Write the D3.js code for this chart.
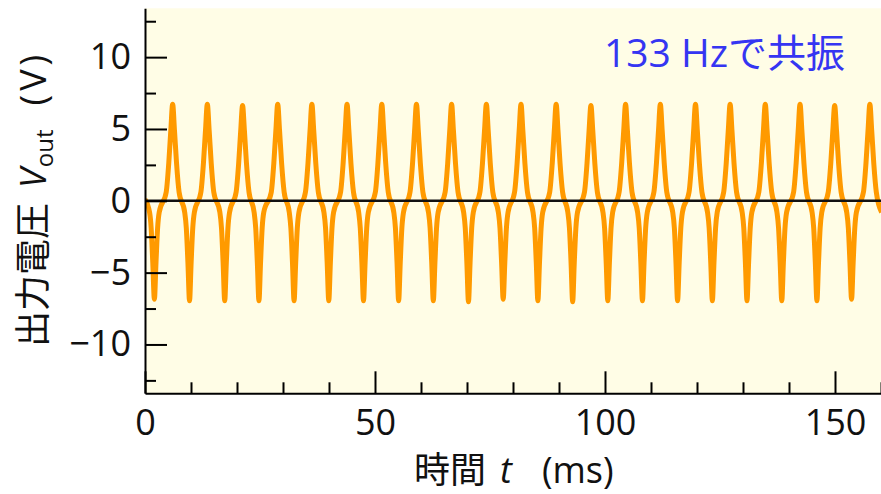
<!DOCTYPE html>
<html>
<head>
<meta charset="utf-8">
<script src="https://cdn.jsdelivr.net/npm/d3@7"></script>
<style>
  body { margin: 0; background: #fff; }
  svg text { font-family: "Open Sans", "Noto Sans CJK JP", sans-serif; }
</style>
</head>
<body>
<svg id="chart" width="881" height="494"></svg>
<script>
// time (ms) and output voltage (V): one line per cycle
const timeMs = [
  0, 0.99, 1.34, 1.69,
  2.04, 2.39, 2.74, 3.09, 4.61, 5.16, 5.61, 6.01, 6.41, 6.86, 7.41, 8.63, 8.98, 9.33,
  9.68, 10.03, 10.38, 10.73, 12.15, 12.70, 13.15, 13.55, 13.95, 14.40, 14.95, 16.28, 16.63, 16.98,
  17.33, 17.68, 18.03, 18.38, 19.81, 20.36, 20.81, 21.21, 21.61, 22.06, 22.61, 23.72, 24.07, 24.42,
  24.77, 25.12, 25.47, 25.82, 27.45, 28.00, 28.45, 28.85, 29.25, 29.70, 30.25, 31.36, 31.71, 32.06,
  32.41, 32.76, 33.11, 33.46, 34.88, 35.43, 35.88, 36.28, 36.68, 37.13, 37.68, 38.90, 39.25, 39.60,
  39.95, 40.30, 40.65, 41.00, 42.52, 43.07, 43.52, 43.92, 44.32, 44.77, 45.32, 46.45, 46.80, 47.15,
  47.50, 47.85, 48.20, 48.55, 50.08, 50.63, 51.08, 51.48, 51.88, 52.33, 52.88, 54.09, 54.44, 54.79,
  55.14, 55.49, 55.84, 56.19, 57.61, 58.16, 58.61, 59.01, 59.41, 59.86, 60.41, 61.63, 61.98, 62.33,
  62.68, 63.03, 63.38, 63.73, 65.25, 65.80, 66.25, 66.65, 67.05, 67.50, 68.05, 69.27, 69.62, 69.97,
  70.32, 70.67, 71.02, 71.37, 72.81, 73.36, 73.81, 74.21, 74.61, 75.06, 75.61, 76.82, 77.17, 77.52,
  77.87, 78.22, 78.57, 78.92, 80.34, 80.89, 81.34, 81.74, 82.14, 82.59, 83.14, 84.36, 84.71, 85.06,
  85.41, 85.76, 86.11, 86.46, 87.98, 88.53, 88.98, 89.38, 89.78, 90.23, 90.78, 91.92, 92.27, 92.62,
  92.97, 93.32, 93.67, 94.02, 95.54, 96.09, 96.54, 96.94, 97.34, 97.79, 98.34, 99.56, 99.91, 100.26,
  100.61, 100.96, 101.31, 101.66, 103.07, 103.62, 104.07, 104.47, 104.87, 105.32, 105.87, 107.09, 107.44, 107.79,
  108.14, 108.49, 108.84, 109.19, 110.63, 111.18, 111.63, 112.03, 112.43, 112.88, 113.43, 114.73, 115.08, 115.43,
  115.78, 116.13, 116.48, 116.83, 118.27, 118.82, 119.27, 119.67, 120.07, 120.52, 121.07, 122.29, 122.64, 122.99,
  123.34, 123.69, 124.04, 124.39, 125.80, 126.35, 126.80, 127.20, 127.60, 128.05, 128.60, 129.82, 130.17, 130.52,
  130.87, 131.22, 131.57, 131.92, 133.44, 133.99, 134.44, 134.84, 135.24, 135.69, 136.24, 137.38, 137.73, 138.08,
  138.43, 138.78, 139.13, 139.48, 141.00, 141.55, 142.00, 142.40, 142.80, 143.25, 143.80, 145.02, 145.37, 145.72,
  146.07, 146.42, 146.77, 147.12, 148.53, 149.08, 149.53, 149.93, 150.33, 150.78, 151.33, 152.55, 152.90, 153.25,
  153.60, 153.95, 154.30, 154.65, 156.18, 156.73, 157.18, 157.58, 157.98, 158.43, 158.98, 160.13
];
const vOut = [
  0.1, -0.8, -1.9, -4.3,
  -6.85, -4.3, -1.9, -0.8, 0.6, 2.6, 4.9, 6.72, 4.9, 2.6, 0.6, -0.8, -1.9, -4.3,
  -6.96, -4.3, -1.9, -0.8, 0.6, 2.6, 4.9, 6.72, 4.9, 2.6, 0.6, -0.8, -1.9, -4.3,
  -6.96, -4.3, -1.9, -0.8, 0.6, 2.6, 4.9, 6.63, 4.9, 2.6, 0.6, -0.8, -1.9, -4.3,
  -6.96, -4.3, -1.9, -0.8, 0.6, 2.6, 4.9, 6.72, 4.9, 2.6, 0.6, -0.8, -1.9, -4.3,
  -6.96, -4.3, -1.9, -0.8, 0.6, 2.6, 4.9, 6.72, 4.9, 2.6, 0.6, -0.8, -1.9, -4.3,
  -6.96, -4.3, -1.9, -0.8, 0.6, 2.6, 4.9, 6.72, 4.9, 2.6, 0.6, -0.8, -1.9, -4.3,
  -6.96, -4.3, -1.9, -0.8, 0.6, 2.6, 4.9, 6.72, 4.9, 2.6, 0.6, -0.8, -1.9, -4.3,
  -6.96, -4.3, -1.9, -0.8, 0.6, 2.6, 4.9, 6.72, 4.9, 2.6, 0.6, -0.8, -1.9, -4.3,
  -6.96, -4.3, -1.9, -0.8, 0.6, 2.6, 4.9, 6.72, 4.9, 2.6, 0.6, -0.8, -1.9, -4.3,
  -7.03, -4.3, -1.9, -0.8, 0.6, 2.6, 4.9, 6.72, 4.9, 2.6, 0.6, -0.8, -1.9, -4.3,
  -6.85, -4.3, -1.9, -0.8, 0.6, 2.6, 4.9, 6.72, 4.9, 2.6, 0.6, -0.8, -1.9, -4.3,
  -6.96, -4.3, -1.9, -0.8, 0.6, 2.6, 4.9, 6.72, 4.9, 2.6, 0.6, -0.8, -1.9, -4.3,
  -7.03, -4.3, -1.9, -0.8, 0.6, 2.6, 4.9, 6.63, 4.9, 2.6, 0.6, -0.8, -1.9, -4.3,
  -6.96, -4.3, -1.9, -0.8, 0.6, 2.6, 4.9, 6.72, 4.9, 2.6, 0.6, -0.8, -1.9, -4.3,
  -6.96, -4.3, -1.9, -0.8, 0.6, 2.6, 4.9, 6.72, 4.9, 2.6, 0.6, -0.8, -1.9, -4.3,
  -6.96, -4.3, -1.9, -0.8, 0.6, 2.6, 4.9, 6.72, 4.9, 2.6, 0.6, -0.8, -1.9, -4.3,
  -6.96, -4.3, -1.9, -0.8, 0.6, 2.6, 4.9, 6.72, 4.9, 2.6, 0.6, -0.8, -1.9, -4.3,
  -6.96, -4.3, -1.9, -0.8, 0.6, 2.6, 4.9, 6.72, 4.9, 2.6, 0.6, -0.8, -1.9, -4.3,
  -6.96, -4.3, -1.9, -0.8, 0.6, 2.6, 4.9, 6.72, 4.9, 2.6, 0.6, -0.8, -1.9, -4.3,
  -6.96, -4.3, -1.9, -0.8, 0.6, 2.6, 4.9, 6.63, 4.9, 2.6, 0.6, -0.8, -1.9, -4.3,
  -6.85, -4.3, -1.9, -0.8, 0.6, 2.6, 4.9, 6.72, 4.9, 2.6, 0.6, -0.8
];

const xMajor = [0, 50, 100, 150];
const xMinor = [10, 20, 30, 40, 60, 70, 80, 90, 110, 120, 130, 140, 160];
const yMajor = [-10, -5, 0, 5, 10];
const yMinor = [-12.5, -7.5, -2.5, 2.5, 7.5, 12.5];

const note = '133 Hzで共振';

const width = 881
const height = 494
const margin = {top: 8.3, right: 0, bottom: 100.7, left: 145}

const svg = d3.select('#chart')

const x = d3.scaleLinear()
  .domain([0, 160])
  .range([margin.left, width - margin.right]);

const y = d3.scaleLinear()
  .domain([-13.4, 13.4])
  .range([height - margin.bottom, margin.top]);

// plot background
svg.append('rect')
  .attr('x', x(0))
  .attr('y', y(13.4))
  .attr('width', x(160) - x(0))
  .attr('height', y(-13.4) - y(13.4))
  .attr('fill', '#fffde6');

svg.append('clipPath').attr('id', 'plot-clip')
  .append('rect')
  .attr('x', x(0))
  .attr('y', y(13.4))
  .attr('width', x(160) - x(0))
  .attr('height', y(-13.4) - y(13.4));

const points = timeMs.map((t, i) => [t, vOut[i]]);

const line = d3.line()
  .x(d => x(d[0]))
  .y(d => y(d[1]))
  .curve(d3.curveMonotoneX);

svg.append('path')
  .datum(points)
  .attr('clip-path', 'url(#plot-clip)')
  .attr('fill', 'none')
  .attr('stroke', '#ff9a00')
  .attr('stroke-width', 5)
  .attr('stroke-linejoin', 'round')
  .attr('d', line);

// zero line
svg.append('line')
  .attr('x1', x(0)).attr('x2', x(160))
  .attr('y1', y(0)).attr('y2', y(0))
  .attr('stroke', '#111')
  .attr('stroke-width', 2.5);

// axes, ticks pointing inwards
const styleAxis = g => {
  g.selectAll('path, line').attr('stroke', '#000').attr('stroke-width', 2);
  g.selectAll('text').attr('font-size', 36).attr('fill', '#111');
};

svg.append('g')
  .attr('transform', `translate(0,${y(-13.4)})`)
  .call(d3.axisBottom(x).tickValues(xMinor).tickSize(-11).tickSizeOuter(0).tickFormat(''))
  .call(styleAxis);

svg.append('g')
  .attr('transform', `translate(0,${y(-13.4)})`)
  .call(d3.axisBottom(x).tickValues(xMajor).tickSize(-22).tickSizeOuter(0).tickPadding(16))
  .call(styleAxis)
  .call(g => g.select('.domain').remove());

svg.append('g')
  .attr('transform', `translate(${x(0)},0)`)
  .call(d3.axisLeft(y).tickValues(yMinor).tickSize(-11).tickSizeOuter(0).tickFormat(''))
  .call(styleAxis);

svg.append('g')
  .attr('transform', `translate(${x(0)},0)`)
  .call(d3.axisLeft(y).tickValues(yMajor).tickSize(-22).tickSizeOuter(0).tickPadding(14))
  .call(styleAxis)
  .call(g => g.select('.domain').remove());

// axis titles
const xTitle = svg.append('text')
  .attr('x', 414)
  .attr('y', 483)
  .attr('font-size', 36)
  .attr('fill', '#111');
xTitle.append('tspan').text('時間');
xTitle.append('tspan').attr('dx', 14).attr('font-style', 'italic').text('t');
xTitle.append('tspan').attr('dx', 30).text('(ms)');

const yTitle = svg.append('text')
  .attr('transform', `translate(46,347) rotate(-90)`)
  .attr('font-size', 36)
  .attr('fill', '#111');
yTitle.append('tspan').text('出力電圧');
yTitle.append('tspan').attr('dx', 15).attr('font-style', 'italic').text('V');
yTitle.append('tspan').attr('font-size', 24).attr('dx', 1).attr('dy', 7).text('out');
yTitle.append('tspan').attr('dx', 24).attr('dy', -7).attr('letter-spacing', 4).text('(V)');

// annotation
svg.append('text')
  .attr('x', 845)
  .attr('y', 67)
  .attr('text-anchor', 'end')
  .attr('font-size', 39)
  .attr('fill', '#3535f2')
  .text(note);
</script>
</body>
</html>
